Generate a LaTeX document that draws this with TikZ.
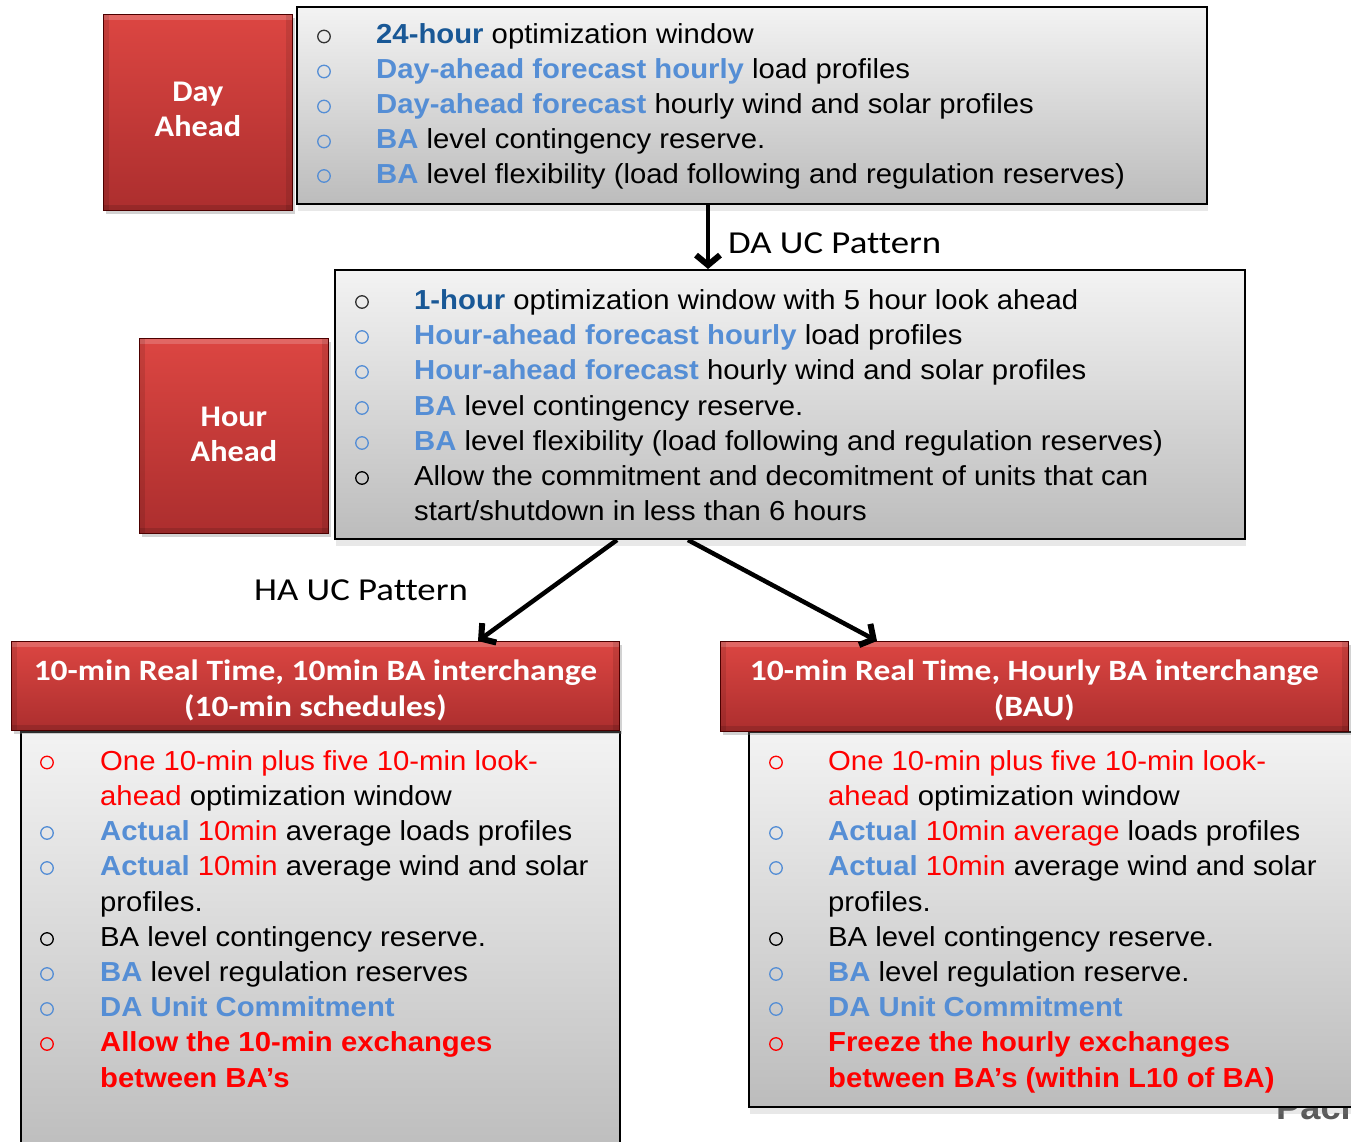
\documentclass[tikz,border=0pt]{standalone}
\usepackage{fontspec}
\setmainfont{Liberation Sans}[FakeStretch=1.065]
\newfontfamily\calfont{Carlito}[FakeStretch=1.15, Ligatures=NoCommon]
\newfontfamily\calfontm{Carlito}[FakeStretch=1.075, Ligatures=NoCommon]
\newfontfamily\calfonth{Carlito}[FakeStretch=1.135, Ligatures=NoCommon]
\usetikzlibrary{arrows.meta,shadows,calc}
\definecolor{dblue}{RGB}{25,88,150}
\definecolor{lblue}{RGB}{85,142,213}
\definecolor{rtxt}{RGB}{255,0,0}
\definecolor{redtop}{RGB}{220,70,66}
\definecolor{redbot}{RGB}{172,46,46}
\definecolor{greytop}{RGB}{243,243,243}
\definecolor{greybot}{RGB}{188,188,188}
\tikzset{
  redbox/.style={draw=red!30!black, line width=0.8pt, top color=redtop, bottom color=redbot,
    anchor=north west, inner sep=0pt,
    path picture={
      \fill[white,opacity=0.18] (path picture bounding box.north west) rectangle ([yshift=-6pt]path picture bounding box.north east);
      \fill[black,opacity=0.10] (path picture bounding box.north west) rectangle ([xshift=6pt]path picture bounding box.south west);
      \fill[black,opacity=0.10] ([xshift=-6pt]path picture bounding box.north east) rectangle (path picture bounding box.south east);
      \fill[black,opacity=0.12] ([yshift=5pt]path picture bounding box.south west) rectangle (path picture bounding box.south east);
    },
    drop shadow={shadow xshift=3pt,shadow yshift=-4pt,opacity=0.35}},
  redtxt/.style={inner sep=0pt, text=white, align=center},
  greybox/.style={draw=black, line width=2pt, top color=greytop, bottom color=greybot,
    anchor=north west, inner sep=0pt,
    drop shadow={shadow xshift=1pt,shadow yshift=-7pt,opacity=0.18}},
  bulnode/.style={circle, draw=#1, line width=1.3pt, minimum size=12.5pt, inner sep=0pt},
  txt/.style={anchor=base west, inner sep=0pt, font=\fontsize{27.5}{33}\selectfont},
  lbl/.style={inner sep=0pt, font=\calfont\fontsize{32}{38}\selectfont},
  arr/.style={line width=4.5pt, -{Straight Barb[length=10pt,width=24pt,line width=6pt]}},
}
\newcommand\Lb[1]{\textcolor{lblue}{\textbf{#1}}}
\newcommand\Db[1]{\textcolor{dblue}{\textbf{#1}}}
\newcommand\Rd[1]{\textcolor{rtxt}{#1}}
\begin{document}
\begin{tikzpicture}[x=1pt,y=-1pt]
\clip (0,0) rectangle (1351,1142);
\fill[white] (0,0) rectangle (1351,1142);

% ---------- boxes ----------
\node[greybox, minimum width=910pt, minimum height=197pt] (top) at (296,6) {};
\node[redbox, minimum width=189pt, minimum height=196pt] (da) at (103,14) {};
\node[redtxt, font=\calfontm\bfseries\fontsize{30}{35}\selectfont] (datxt) at ($(da.center)+(0,-3)$) {Day\\Ahead};

\node[greybox, minimum width=910pt, minimum height=269pt] (mid) at (334,269) {};
\node[redbox, minimum width=189pt, minimum height=195pt] (ha) at (139,338) {};
\node[redtxt, font=\calfontm\bfseries\fontsize{30}{35}\selectfont] (hatxt) at ($(ha.center)+(0,-2)$) {Hour\\Ahead};

\node[anchor=base west, inner sep=0pt, font=\bfseries\fontsize{34}{40}\selectfont, text=black!65] (paci) at (1276,1119) {Paci};

\node[greybox, minimum width=599pt, minimum height=430pt] (bl) at (20,731) {};
\node[greybox, minimum width=620pt, minimum height=375pt] (br) at (748,731) {};

\node[redbox, minimum width=608pt, minimum height=89pt] (rtl) at (11,641) {};
\node[redtxt, font=\calfonth\bfseries\fontsize{29.5}{36}\selectfont] (rtltxt) at ($(rtl.center)+(0,4)$)
  {10-min Real Time, 10min BA interchange\\(10-min schedules)};
\node[redbox, minimum width=628pt, minimum height=90pt] (rtr) at (720,641) {};
\node[redtxt, font=\calfonth\bfseries\fontsize{29.5}{36}\selectfont] (rtrtxt) at ($(rtr.center)+(0,4)$)
  {10-min Real Time, Hourly BA interchange\\(BAU)};

% ---------- top box text ----------
\node[bulnode=black!80] (tb1) at (324,36.5) {};
\node[txt] (t1) at (376,44) {\Db{24-hour} optimization window};
\node[bulnode=lblue] (tb2) at (324,71.5) {};
\node[txt] (t2) at (376,79) {\Lb{Day-ahead forecast hourly} load profiles};
\node[bulnode=lblue] (tb3) at (324,106.5) {};
\node[txt] (t3) at (376,114) {\Lb{Day-ahead forecast} hourly wind and solar profiles};
\node[bulnode=lblue] (tb4) at (324,141.5) {};
\node[txt] (t4) at (376,149) {\Lb{BA} level contingency reserve.};
\node[bulnode=lblue] (tb5) at (324,176) {};
\node[txt] (t5) at (376,183.5) {\Lb{BA} level flexibility (load following and regulation reserves)};

% ---------- middle box text ----------
\node[bulnode=black!80] (mb1) at (362,302) {};
\node[txt] (m1) at (414,309.5) {\Db{1-hour} optimization window with 5 hour look ahead};
\node[bulnode=lblue] (mb2) at (362,337) {};
\node[txt] (m2) at (414,344.5) {\Lb{Hour-ahead forecast hourly} load profiles};
\node[bulnode=lblue] (mb3) at (362,372) {};
\node[txt] (m3) at (414,379.5) {\Lb{Hour-ahead forecast} hourly wind and solar profiles};
\node[bulnode=lblue] (mb4) at (362,408) {};
\node[txt] (m4) at (414,415.5) {\Lb{BA} level contingency reserve.};
\node[bulnode=lblue] (mb5) at (362,443) {};
\node[txt] (m5) at (414,450.5) {\Lb{BA} level flexibility (load following and regulation reserves)};
\node[bulnode=black] (mb6) at (362,478) {};
\node[txt] (m6) at (414,485.5) {Allow the commitment and decomitment of units that can};
\node[txt] (m7) at (414,520.5) {start/shutdown in less than 6 hours};

% ---------- bottom left text ----------
\node[bulnode=rtxt] (lb1) at (47,762.5) {};
\node[txt] (l1) at (100,770) {\Rd{One 10-min plus five 10-min look-}};
\node[txt] (l1b) at (100,805.5) {\Rd{ahead} optimization window};
\node[bulnode=lblue] (lb2) at (47,833) {};
\node[txt] (l2) at (100,840.5) {\Lb{Actual} \Rd{10min} average loads profiles};
\node[bulnode=lblue] (lb3) at (47,868) {};
\node[txt] (l3) at (100,875.5) {\Lb{Actual} \Rd{10min} average wind and solar};
\node[txt] (l3b) at (100,911) {profiles.};
\node[bulnode=black] (lb4) at (47,939) {};
\node[txt] (l4) at (100,946.5) {BA level contingency reserve.};
\node[bulnode=lblue] (lb5) at (47,974) {};
\node[txt] (l5) at (100,981.5) {\Lb{BA} level regulation reserves};
\node[bulnode=lblue] (lb6) at (47,1009) {};
\node[txt] (l6) at (100,1016.5) {\Lb{DA Unit Commitment}};
\node[bulnode=rtxt] (lb7) at (47,1044) {};
\node[txt] (l7) at (100,1051.5) {\textcolor{rtxt}{\textbf{Allow the 10-min exchanges}}};
\node[txt] (l7b) at (100,1087) {\textcolor{rtxt}{\textbf{between BA’s}}};

% ---------- bottom right text ----------
\node[bulnode=rtxt] (rb1) at (776,762.5) {};
\node[txt] (r1) at (828,770) {\Rd{One 10-min plus five 10-min look-}};
\node[txt] (r1b) at (828,805.5) {\Rd{ahead} optimization window};
\node[bulnode=lblue] (rb2) at (776,833) {};
\node[txt] (r2) at (828,840.5) {\Lb{Actual} \Rd{10min average} loads profiles};
\node[bulnode=lblue] (rb3) at (776,868) {};
\node[txt] (r3) at (828,875.5) {\Lb{Actual} \Rd{10min} average wind and solar};
\node[txt] (r3b) at (828,911) {profiles.};
\node[bulnode=black] (rb4) at (776,939) {};
\node[txt] (r4) at (828,946.5) {BA level contingency reserve.};
\node[bulnode=lblue] (rb5) at (776,974) {};
\node[txt] (r5) at (828,981.5) {\Lb{BA} level regulation reserve.};
\node[bulnode=lblue] (rb6) at (776,1009) {};
\node[txt] (r6) at (828,1016.5) {\Lb{DA Unit Commitment}};
\node[bulnode=rtxt] (rb7) at (776,1044) {};
\node[txt] (r7) at (828,1051.5) {\textcolor{rtxt}{\textbf{Freeze the hourly exchanges}}};
\node[txt] (r7b) at (828,1087) {\textcolor{rtxt}{\textbf{between BA’s (within L10 of BA)}}};

% ---------- connectors ----------
\draw[arr] ($(top.south west)+(412,0)$) -- ($(mid.north west)+(374,0)$);
\draw[arr] ($(mid.south west)+(283,0)$) -- ($(rtl.north west)+(467,0)$);
\draw[arr] ($(mid.south west)+(354,0)$) -- ($(rtr.north west)+(157,0)$);

\node[lbl, anchor=west] (dalbl) at (728,243) {DA UC Pattern};
\node[lbl] (halbl) at (361,590) {HA UC Pattern};
\end{tikzpicture}
\end{document}
